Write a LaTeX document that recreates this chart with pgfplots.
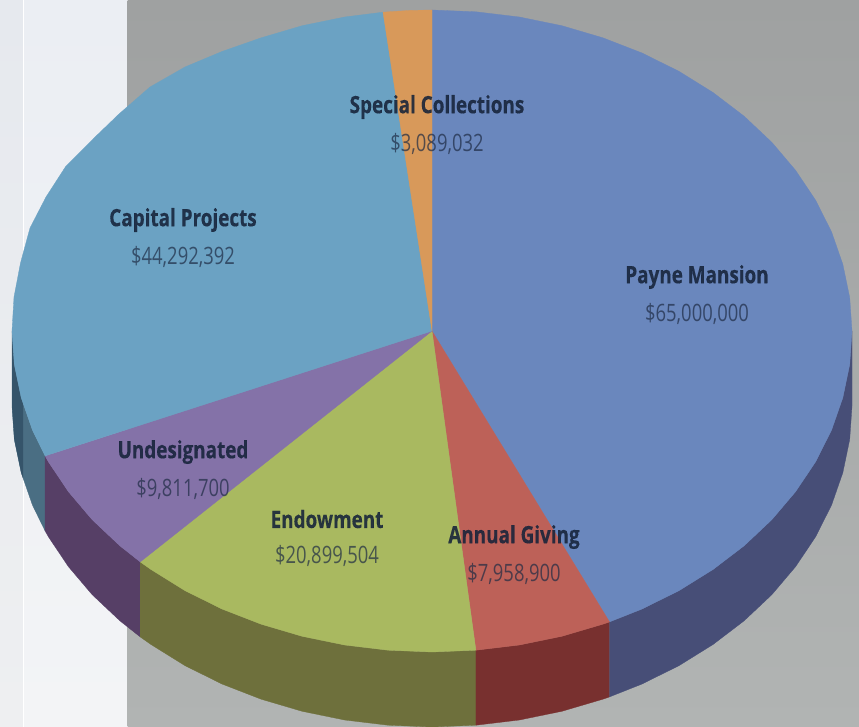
\documentclass[border=0pt]{standalone}
\usepackage{pgfplots}
\pgfplotsset{compat=1.18}
\usepackage{fontspec}
\setmainfont{Open Sans}
\newfontfamily\namefont[FakeStretch=0.79,FakeBold=0.4]{Open Sans Bold}
\newfontfamily\amountfont[FakeStretch=0.77]{Open Sans}
\definecolor{marginTop}{HTML}{EBEEF3}
\definecolor{marginBottom}{HTML}{F3F4F6}
\definecolor{panelTop}{HTML}{9FA1A1}
\definecolor{panelBottom}{HTML}{B1B4B3}
\definecolor{payneTop}{HTML}{6A87BD}
\definecolor{payneSide}{HTML}{474E77}
\definecolor{annualTop}{HTML}{BD6158}
\definecolor{annualSide}{HTML}{78302F}
\definecolor{endowTop}{HTML}{A9B960}
\definecolor{endowSide}{HTML}{6E703C}
\definecolor{undesTop}{HTML}{8472A8}
\definecolor{undesSide}{HTML}{563F66}
\definecolor{capTop}{HTML}{6BA2C3}
\definecolor{capSide}{HTML}{4A6E83}
\definecolor{capSideDark}{HTML}{35546A}
\definecolor{specTop}{HTML}{D8995A}
\definecolor{inkName}{HTML}{16233A}
\definecolor{inkAmount}{HTML}{1E2B44}
\newcommand{\slicelabel}[4]{%
  \node[text=inkName,opacity=.88,font=\namefont\fontsize{24}{27}\selectfont,anchor=center] at (axis cs:#1,#2+2) {#3};
  \node[text=inkAmount,opacity=.70,font=\amountfont\fontsize{24}{27}\selectfont,anchor=center] at (axis cs:#1,#2+39) {#4};
}
\begin{document}
\begin{tikzpicture}[x=1bp,y=1bp]
\begin{axis}[
  scale only axis, width=859bp, height=727bp,
  xmin=0, xmax=859, ymin=0, ymax=727, y dir=reverse,
  hide axis, clip=true,
]
% page background: pale margin and grey panel
\addplot[draw=none, shade, top color=marginTop, bottom color=marginBottom] coordinates {(0,0)(127.5,0)(127.5,727)(0,727)} --cycle;
\addplot[draw=none, fill=black, fill opacity=.02] coordinates {(0,0)(23,0)(23,727)(0,727)} --cycle;
\addplot[white, line width=1.2bp] coordinates {(23.5,0)(23.5,727)};
\addplot[draw=none, shade, top color=panelTop, bottom color=panelBottom] coordinates {(127.5,0)(859,0)(859,727)(127.5,727)} --cycle;

% rim of the disc, 75 units deep
\addplot[fill=capSide, draw=capSide, line width=.3bp] coordinates {(12,331)(14.3,364.5)(21.2,397.7)(32.5,430.2)(45.1,455.9)(45.1,530.9)(32.5,505.2)(21.2,472.7)(14.3,439.5)(12,406)} --cycle;
\addplot[fill=capSideDark, draw=none] coordinates {(12,331)(14.3,364.5)(21.2,397.7)(23,403)(23,478)(21.2,472.7)(14.3,439.5)(12,406)} --cycle;
\addplot[fill=undesSide, draw=undesSide, line width=.3bp] coordinates {(45.1,455.9)(48.3,461.6)(68.3,491.5)(92.2,519.7)(119.9,545.8)(140.2,561.9)(140.2,636.9)(119.9,620.8)(92.2,594.7)(68.3,566.5)(48.3,536.6)(45.1,530.9)} --cycle;
\addplot[fill=endowSide, draw=endowSide, line width=.3bp] coordinates {(140.2,561.9)(151,569.5)(185.1,590.7)(222,609)(261.2,624.2)(302.2,636.3)(344.7,645)(388.1,650.2)(432,652)(475.9,650.2)(475.9,725.2)(432,727)(388.1,725.2)(344.7,720)(302.2,711.3)(261.2,699.2)(222,684)(185.1,665.7)(151,644.5)(140.2,636.9)} --cycle;
\addplot[fill=annualSide, draw=annualSide, line width=.3bp] coordinates {(475.9,650.2)(519.3,645)(561.8,636.3)(602.8,624.2)(609.5,621.9)(609.5,696.9)(602.8,699.2)(561.8,711.3)(519.3,720)(475.9,725.2)} --cycle;
\addplot[fill=payneSide, draw=payneSide, line width=.3bp] coordinates {(609.5,621.9)(642,609)(678.9,590.7)(713,569.5)(744.1,545.8)(771.8,519.7)(795.7,491.5)(815.7,461.6)(831.5,430.2)(842.8,397.7)(849.7,364.5)(852,331)(852,406)(849.7,439.5)(842.8,472.7)(831.5,505.2)(815.7,536.6)(795.7,566.5)(771.8,594.7)(744.1,620.8)(713,644.5)(678.9,665.7)(642,684)(609.5,696.9)} --cycle;

% upper face, one wedge per gift category
\addplot[fill=payneTop, draw=payneTop, line width=.3bp] coordinates {(432,331)(432,10)(475.9,11.8)(519.3,17)(561.8,25.7)(602.8,37.8)(642,53)(678.9,71.3)(713,92.5)(744.1,116.2)(771.8,142.3)(795.7,170.5)(815.7,200.4)(831.5,231.8)(842.8,264.3)(849.7,297.5)(852,331)(849.7,364.5)(842.8,397.7)(831.5,430.2)(815.7,461.6)(795.7,491.5)(771.8,519.7)(744.1,545.8)(713,569.5)(678.9,590.7)(642,609)(609.5,621.9)} --cycle;
\addplot[fill=annualTop, draw=annualTop, line width=.3bp] coordinates {(432,331)(609.5,621.9)(602.8,624.2)(561.8,636.3)(519.3,645)(475.9,650.2)} --cycle;
\addplot[fill=endowTop, draw=endowTop, line width=.3bp] coordinates {(432,331)(475.9,650.2)(432,652)(388.1,650.2)(344.7,645)(302.2,636.3)(261.2,624.2)(222,609)(185.1,590.7)(151,569.5)(140.2,561.9)} --cycle;
\addplot[fill=undesTop, draw=undesTop, line width=.3bp] coordinates {(432,331)(140.2,561.9)(119.9,545.8)(92.2,519.7)(68.3,491.5)(48.3,461.6)(45.1,455.9)} --cycle;
\addplot[fill=capTop, draw=capTop, line width=.3bp] coordinates {(432,331)(45.1,455.9)(32.5,430.2)(21.2,397.7)(14.3,364.5)(12,331)(14,297)(20.5,263)(30,228)(46,197)(66,166)(92,140)(119,114)(150,87)(185,67)(222,51.5)(261.2,37.8)(302.2,25.7)(344.7,17)(383,12.2)} --cycle;
\addplot[fill=specTop, draw=specTop, line width=.3bp] coordinates {(432,331)(383,12.2)(388.1,11.8)(410,10.4)(432,10)} --cycle;

% category names and amounts
\slicelabel{437}{105}{Special Collections}{\$3,089,032}
\slicelabel{183}{218}{Capital Projects}{\$44,292,392}
\slicelabel{697}{275}{Payne Mansion}{\$65,000,000}
\slicelabel{183}{450}{Undesignated}{\$9,811,700}
\slicelabel{327}{517}{Endowment}{\$20,899,504}
\slicelabel{514}{535}{Annual Giving}{\$7,958,900}
\end{axis}
\end{tikzpicture}
\end{document}
